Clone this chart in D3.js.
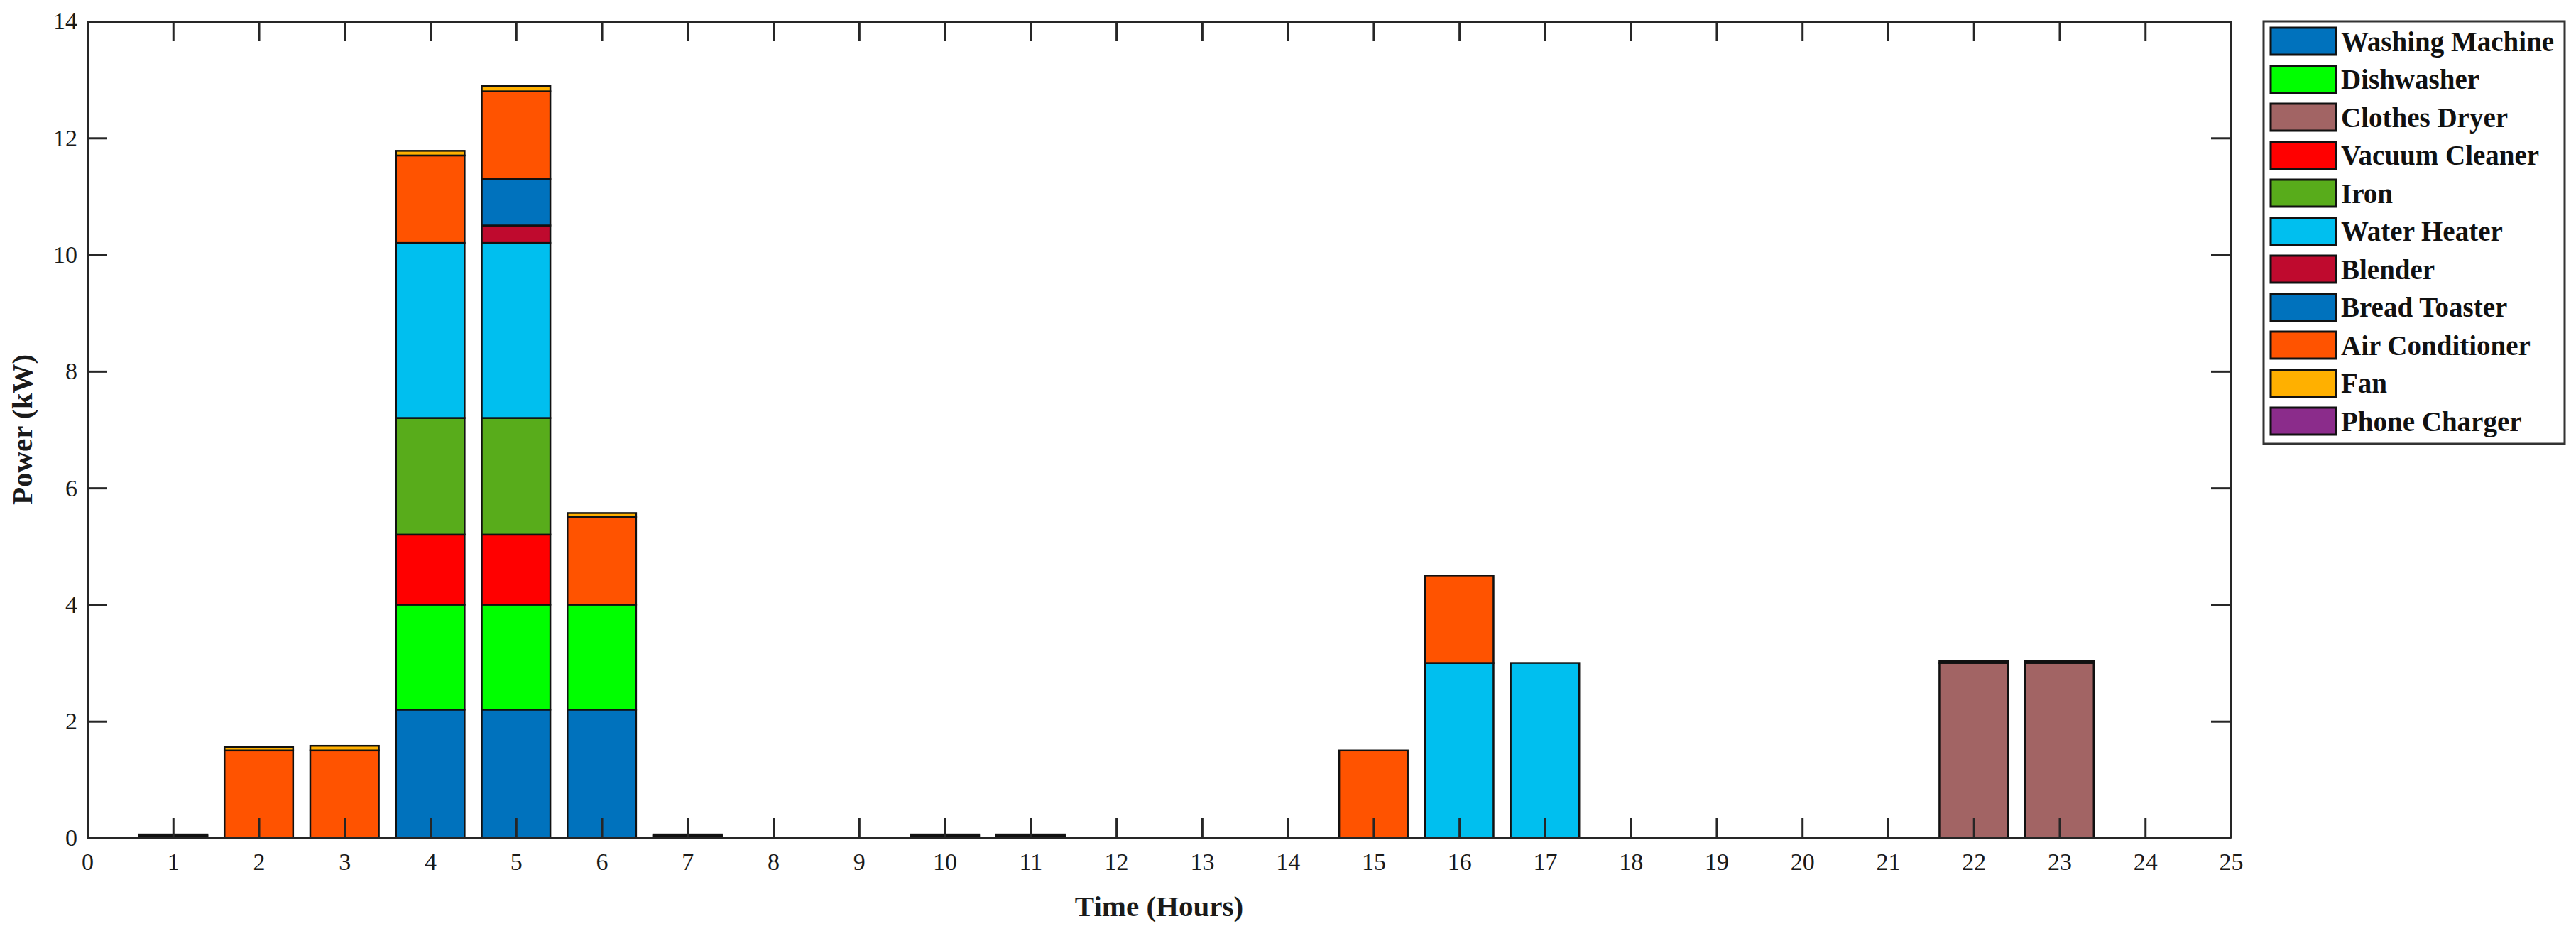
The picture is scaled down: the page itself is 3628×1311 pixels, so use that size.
<!DOCTYPE html>
<html>
<head>
<meta charset="utf-8">
<script src="https://cdn.jsdelivr.net/npm/d3@7"></script>
<style>
  html, body { margin: 0; padding: 0; background: #fff; }
  svg { display: block; }
</style>
</head>
<body>
<svg id="chart" width="3628" height="1311"></svg>
<script>
// ---------------- DATA ----------------
const hours = [1,2,3,4,5,6,7,8,9,10,11,12,13,14,15,16,17,18,19,20,21,22,23,24];
const seriesNames = ["Washing Machine","Dishwasher","Clothes Dryer","Vacuum Cleaner","Iron","Water Heater","Blender","Bread Toaster","Air Conditioner","Fan","Phone Charger"];
const seriesColors = ["#0072BD","#00FF00","#A26464","#FF0000","#58AC1B","#00BFEF","#BF0A2E","#0072BD","#FF5300","#FFB000","#8B2C8B"];
//                     1    2    3    4    5    6    7    8  9  10   11   12 13 14 15   16   17   18 19 20 21 22   23   24
const washingMachine = [0,   0,   0,   2.2, 2.2, 2.2, 0,   0, 0, 0,   0,   0, 0, 0, 0,   0,   0,   0, 0, 0, 0, 0,   0,   0];
const dishwasher     = [0,   0,   0,   1.8, 1.8, 1.8, 0,   0, 0, 0,   0,   0, 0, 0, 0,   0,   0,   0, 0, 0, 0, 0,   0,   0];
const clothesDryer   = [0,   0,   0,   0,   0,   0,   0,   0, 0, 0,   0,   0, 0, 0, 0,   0,   0,   0, 0, 0, 0, 3.0, 3.0, 0];
const vacuumCleaner  = [0,   0,   0,   1.2, 1.2, 0,   0,   0, 0, 0,   0,   0, 0, 0, 0,   0,   0,   0, 0, 0, 0, 0,   0,   0];
const iron           = [0,   0,   0,   2.0, 2.0, 0,   0,   0, 0, 0,   0,   0, 0, 0, 0,   0,   0,   0, 0, 0, 0, 0,   0,   0];
const waterHeater    = [0,   0,   0,   3.0, 3.0, 0,   0,   0, 0, 0,   0,   0, 0, 0, 0,   3.0, 3.0, 0, 0, 0, 0, 0,   0,   0];
const blender        = [0,   0,   0,   0,   0.3, 0,   0,   0, 0, 0,   0,   0, 0, 0, 0,   0,   0,   0, 0, 0, 0, 0,   0,   0];
const breadToaster   = [0,   0,   0,   0,   0.8, 0,   0,   0, 0, 0,   0,   0, 0, 0, 0,   0,   0,   0, 0, 0, 0, 0,   0,   0];
const airConditioner = [0,   1.5, 1.5, 1.5, 1.5, 1.5, 0,   0, 0, 0,   0,   0, 0, 0, 1.5, 1.5, 0,   0, 0, 0, 0, 0,   0,   0];
const fan            = [0.04,0.06,0.08,0.08,0.09,0.07,0.04,0, 0, 0.04,0.04,0, 0, 0, 0,   0,   0,   0, 0, 0, 0, 0,   0,   0];
const phoneCharger   = [0.02,0,   0,   0,   0,   0,   0.02,0, 0, 0.02,0.02,0, 0, 0, 0,   0,   0,   0, 0, 0, 0, 0.03,0.03,0];
const xTicks = [0,1,2,3,4,5,6,7,8,9,10,11,12,13,14,15,16,17,18,19,20,21,22,23,24,25];
const yTicks = [0,2,4,6,8,10,12,14];

const seriesValues = [washingMachine, dishwasher, clothesDryer, vacuumCleaner, iron, waterHeater, blender, breadToaster, airConditioner, fan, phoneCharger];

// ---------------- LAYOUT ----------------
const L = 123, R = 3142, T = 30, B = 1180;
const svg = d3.select("#chart");
const font = "'Liberation Serif', 'DejaVu Serif', serif";

const x = d3.scaleLinear().domain([0, 25]).range([L, R]);
const y = d3.scaleLinear().domain([0, 14]).range([B, T]);
const barW = 0.8;

// table for stacking
const table = hours.map((h, i) => {
  const o = { hour: h };
  seriesNames.forEach((n, k) => { o[n] = seriesValues[k][i]; });
  return o;
});
const stack = d3.stack().keys(seriesNames)(table);

const gBars = svg.append("g");
stack.forEach((layer, k) => {
  gBars.selectAll(null)
    .data(layer.filter(d => d[1] - d[0] > 0))
    .enter().append("rect")
    .attr("x", d => x(d.data.hour - barW / 2))
    .attr("width", d => x(barW) - x(0))
    .attr("y", d => y(d[1]))
    .attr("height", d => y(d[0]) - y(d[1]))
    .attr("fill", seriesColors[k])
    .attr("stroke", "#111")
    .attr("stroke-width", 2.5);
});

// ---------------- AXES ----------------
const tickLen = 28;
const axisColor = "#262626";

const xAxisB = d3.axisBottom(x).tickValues(xTicks).tickFormat(d3.format("d")).tickSizeInner(-tickLen).tickSizeOuter(0).tickPadding(14);
const gxb = svg.append("g").attr("transform", `translate(0,${B})`).call(xAxisB);
const xAxisT = d3.axisTop(x).tickValues(xTicks).tickFormat("").tickSizeInner(-tickLen).tickSizeOuter(0);
const gxt = svg.append("g").attr("transform", `translate(0,${T})`).call(xAxisT);
const yAxisL = d3.axisLeft(y).tickValues(yTicks).tickFormat(d3.format("d")).tickSizeInner(-tickLen).tickSizeOuter(0).tickPadding(14);
const gyl = svg.append("g").attr("transform", `translate(${L},0)`).call(yAxisL);
const yAxisR = d3.axisRight(y).tickValues(yTicks).tickFormat("").tickSizeInner(-tickLen).tickSizeOuter(0);
const gyr = svg.append("g").attr("transform", `translate(${R},0)`).call(yAxisR);

[gxb, gxt, gyl, gyr].forEach(g => {
  g.select(".domain").attr("stroke", axisColor).attr("stroke-width", 3);
  g.selectAll(".tick line").attr("stroke", axisColor).attr("stroke-width", 3);
  g.selectAll(".tick text").attr("fill", "#1a1a1a").attr("font-family", font).attr("font-size", 34);
});
gxb.selectAll(".tick text").attr("dy", "0.9em");
// remove ticks at box corners like MATLAB shows them anyway (keep)

// axis labels
svg.append("text")
  .attr("x", (L + R) / 2).attr("y", 1290)
  .attr("text-anchor", "middle")
  .attr("font-family", font).attr("font-weight", "bold").attr("font-size", 41)
  .attr("fill", "#1a1a1a")
  .text("Time (Hours)");

svg.append("text")
  .attr("transform", `translate(45,${(T + B) / 2}) rotate(-90)`)
  .attr("text-anchor", "middle")
  .attr("font-family", font).attr("font-weight", "bold").attr("font-size", 41)
  .attr("fill", "#1a1a1a")
  .text("Power (kW)");

// ---------------- LEGEND ----------------
const lgX = 3188, lgY = 30, lgW = 424, lgH = 595;
const rowH = 53.5;
const lg = svg.append("g");
lg.append("rect").attr("x", lgX).attr("y", lgY).attr("width", lgW).attr("height", lgH)
  .attr("fill", "#fff").attr("stroke", "#333").attr("stroke-width", 3);
seriesNames.forEach((n, k) => {
  const cy = lgY + 28 + k * rowH;
  lg.append("rect").attr("x", lgX + 10).attr("y", cy - 19).attr("width", 92).attr("height", 38)
    .attr("fill", seriesColors[k]).attr("stroke", "#111").attr("stroke-width", 3);
  lg.append("text").attr("x", lgX + 109).attr("y", cy).attr("dy", "0.35em")
    .attr("font-family", font).attr("font-weight", "bold").attr("font-size", 39)
    .attr("fill", "#111").text(n);
});
</script>
</body>
</html>
